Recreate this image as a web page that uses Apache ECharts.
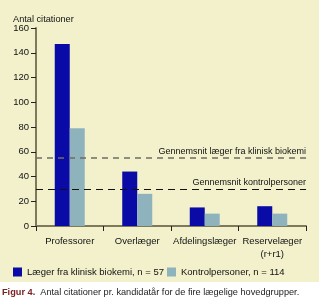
<!DOCTYPE html>
<html>
<head>
<meta charset="utf-8">
<script src="https://cdn.jsdelivr.net/npm/echarts@6/dist/echarts.min.js"></script>
<style>
html, body { margin: 0; padding: 0; background: #fff; }
#main { width: 319px; height: 301px; }
</style>
</head>
<body>
<div id="main"></div>
<script>
// data
var categories = ['Professorer', 'Overlæger', 'Afdelingslæger', 'Reservelæger\n(r+r1)'];
var biokemi = [147, 44, 15, 16];
var kontrol = [79, 26, 10, 10];
var yTicks = [0, 20, 40, 60, 80, 100, 120, 140, 160];
var avgBiokemi = 55;
var avgKontrol = 30;

var seriesNames = ['Læger fra klinisk biokemi, n = 57', 'Kontrolpersoner, n = 114'];
var avgLabels = ['Gennemsnit læger fra klinisk biokemi', 'Gennemsnit kontrolpersoner'];

var font = 'Liberation Sans';
var fs = 9.5;
var axisColor = '#7d7a5c';

var myChart = echarts.init(document.getElementById('main'));
var option = {
    backgroundColor: '#ffffff',
    animation: false,
    textStyle: { fontFamily: font },
    graphic: [
        {
            type: 'rect', z: -10,
            shape: { x: 0, y: 0, width: 319, height: 282 },
            style: { fill: '#f2f1cc' }
        },
        {
            type: 'text', left: 2, top: 288,
            style: {
                rich: {
                    f: { fontFamily: font, fontSize: 9.2, fontWeight: 'bold', fill: '#7a2222' },
                    t: { fontFamily: font, fontSize: 9.2, fill: '#222' }
                },
                text: '{f|Figur 4.}{t|  Antal citationer pr. kandidatår for de fire lægelige hovedgrupper.}'
            }
        }
    ],
    title: {
        text: 'Antal citationer',
        left: 8, top: 10,
        textStyle: { fontFamily: font, fontSize: 9.2, fontWeight: 'normal', color: '#111' }
    },
    legend: [
        {
            left: 8, top: 262,
            itemWidth: 9, itemHeight: 9, icon: 'rect',
            textStyle: { fontFamily: font, fontSize: fs, color: '#111' },
            data: [seriesNames[0]]
        },
        {
            left: 162, top: 262,
            itemWidth: 9, itemHeight: 9, icon: 'rect',
            textStyle: { fontFamily: font, fontSize: fs, color: '#111' },
            data: [seriesNames[1]]
        }
    ],
    grid: { left: 36, right: 13, top: 28, bottom: 75 },
    xAxis: {
        type: 'category',
        data: categories,
        axisLine: { lineStyle: { color: axisColor, width: 2 } },
        axisTick: { show: true, length: 5, lineStyle: { color: '#222', width: 1 } },
        axisLabel: { interval: 0, color: '#111', fontSize: fs, fontFamily: font, margin: 9, lineHeight: 13 }
    },
    yAxis: {
        type: 'value',
        min: yTicks[0], max: yTicks[yTicks.length - 1], interval: 20,
        splitLine: { show: false },
        axisLine: { show: true, lineStyle: { color: axisColor, width: 2 } },
        axisTick: { show: true, length: 5, lineStyle: { color: '#222', width: 1 } },
        axisLabel: { color: '#111', fontSize: fs, fontFamily: font, margin: 7 }
    },
    series: [
        {
            name: seriesNames[0],
            type: 'bar',
            z: 3,
            barWidth: 15,
            barGap: '0%',
            itemStyle: { color: '#0a0aa6' },
            data: biokemi
        },
        {
            name: seriesNames[1],
            type: 'bar',
            z: 3,
            barWidth: 15,
            barGap: '0%',
            itemStyle: { color: '#8fb3bd' },
            data: kontrol
        },
        {
            // average lines
            type: 'line',
            z: 1,
            data: [],
            markLine: {
                silent: true,
                symbol: 'none',
                data: [
                    {
                        yAxis: avgBiokemi,
                        lineStyle: { color: '#6e6e66', type: [6, 5], width: 1.5 },
                        label: {
                            formatter: avgLabels[0], position: 'insideEndTop',
                            color: '#111', fontSize: 9, fontFamily: font, distance: [0, 2]
                        }
                    },
                    {
                        yAxis: avgKontrol,
                        lineStyle: { color: '#111', type: [7, 5], width: 1.2 },
                        label: {
                            formatter: avgLabels[1], position: 'insideEndTop',
                            color: '#111', fontSize: 9, fontFamily: font, distance: [0, 2]
                        }
                    }
                ]
            }
        }
    ]
};
myChart.setOption(option, true);
</script>
</body>
</html>
